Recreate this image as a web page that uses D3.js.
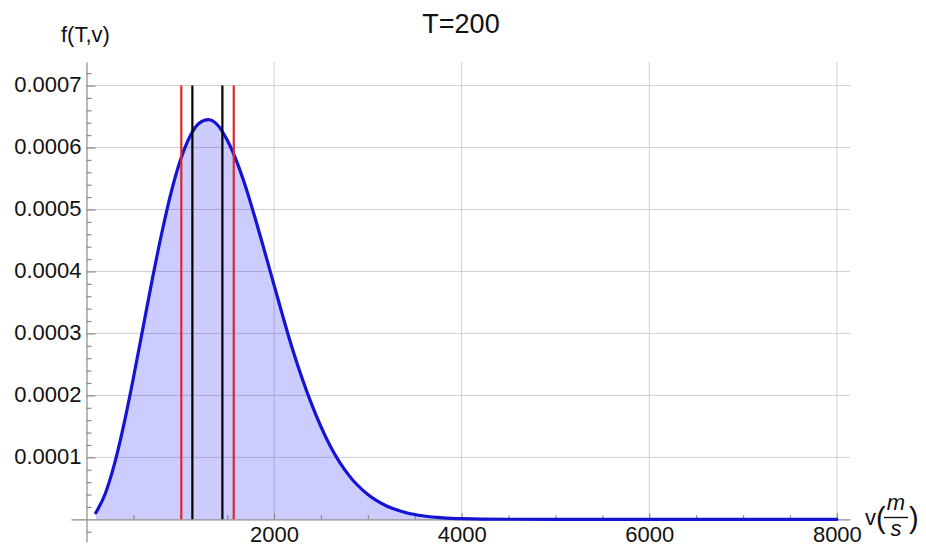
<!DOCTYPE html>
<html>
<head>
<meta charset="utf-8">
<script src="https://cdn.jsdelivr.net/npm/d3@7"></script>
<style>
    html, body { margin: 0; padding: 0; background: #fff; }
    svg { display: block; font-family: "Liberation Sans", Arial, sans-serif; }
</style>
</head>
<body>
<div id="chart"></div>
<script>
const WIDTH = 926;
const HEIGHT = 546;

const chartTitle = 'T=200';

// speed (m/s) and density
const speeds = [100, 200, 300, 400, 500, 600, 700, 800, 900, 1000,
    1100, 1200, 1300, 1400, 1500, 1600, 1700, 1800, 1900, 2000,
    2200, 2400, 2600, 2800, 3000, 3200, 3400, 3600, 3800, 4000,
    4500, 5000, 6000, 7000, 8000];
const density = [0.0000105, 0.0000413, 0.0000902, 0.000154, 0.000228, 0.000307, 0.000386, 0.000460, 0.000526, 0.000579,
    0.000617, 0.000639, 0.000645, 0.000636, 0.000612, 0.000578, 0.000535, 0.000485, 0.000432, 0.000378,
    0.000273, 0.000186, 0.000118, 0.0000705, 0.0000400, 0.0000215, 0.0000110, 0.0000053, 0.0000024, 0.0000011,
    0.0000001, 0, 0, 0, 0];

// vertical marker lines
const redMarkers = [1011, 1570];
const blackMarkers = [1129, 1449];
const markerTop = 0.0007;

const xMajorTicks = [2000, 4000, 6000, 8000];
const xMinorTicks = [500, 1000, 1500, 2500, 3000, 3500, 4500, 5000, 5500, 6500, 7000, 7500];
const yMajorTicks = [0.0001, 0.0002, 0.0003, 0.0004, 0.0005, 0.0006, 0.0007];
const yMinorTicks = [-0.00002, 0.00002, 0.00004, 0.00006, 0.00008, 0.00012, 0.00014, 0.00016, 0.00018,
    0.00022, 0.00024, 0.00026, 0.00028, 0.00032, 0.00034, 0.00036, 0.00038,
    0.00042, 0.00044, 0.00046, 0.00048, 0.00052, 0.00054, 0.00056, 0.00058,
    0.00062, 0.00064, 0.00066, 0.00068, 0.00072];

const points = speeds.map((v, i) => ({ v: v, f: density[i] }));

const svg = d3.select('#chart')
    .append('svg')
    .attr('width', WIDTH)
    .attr('height', HEIGHT);

const x = d3.scaleLinear()
    .domain([-165, 8140])
    .range([71, 850]);

const y = d3.scaleLinear()
    .domain([-0.0000366, 0.000738])
    .range([542, 62]);

const axisColor = '#8a8a8a';
const gridColor = '#d0d0d0';

// grid
svg.append('g')
    .selectAll('line')
    .data(xMajorTicks)
    .join('line')
    .attr('x1', d => x(d))
    .attr('x2', d => x(d))
    .attr('y1', y.range()[1])
    .attr('y2', y(0))
    .attr('stroke', gridColor)
    .attr('stroke-width', 1);

svg.append('g')
    .selectAll('line')
    .data(yMajorTicks)
    .join('line')
    .attr('x1', x(0))
    .attr('x2', x.range()[1])
    .attr('y1', d => y(d))
    .attr('y2', d => y(d))
    .attr('stroke', gridColor)
    .attr('stroke-width', 1);

// filled area under the curve
svg.append('path')
    .datum(points)
    .attr('fill', 'rgb(0,0,255)')
    .attr('fill-opacity', 0.2)
    .attr('stroke', 'none')
    .attr('d', d3.area()
        .curve(d3.curveMonotoneX)
        .x(d => x(d.v))
        .y0(y(0))
        .y1(d => y(d.f))
    );

// axes
const xAxisG = svg.append('g')
    .attr('transform', 'translate(0,' + y(0) + ')')
    .call(d3.axisBottom(x)
        .tickValues(xMajorTicks)
        .tickFormat(d3.format('d'))
        .tickSizeInner(-6)
        .tickSizeOuter(0)
        .tickPadding(7));

svg.append('g')
    .attr('transform', 'translate(0,' + y(0) + ')')
    .call(d3.axisBottom(x)
        .tickValues(xMinorTicks)
        .tickFormat('')
        .tickSizeInner(-4)
        .tickSizeOuter(0))
    .call(g => g.select('.domain').remove());

const yAxisG = svg.append('g')
    .attr('transform', 'translate(' + x(0) + ',0)')
    .call(d3.axisLeft(y)
        .tickValues(yMajorTicks)
        .tickFormat(d3.format('.4f'))
        .tickSizeInner(-9)
        .tickSizeOuter(0)
        .tickPadding(5));

svg.append('g')
    .attr('transform', 'translate(' + x(0) + ',0)')
    .call(d3.axisLeft(y)
        .tickValues(yMinorTicks)
        .tickFormat('')
        .tickSizeInner(-5)
        .tickSizeOuter(0))
    .call(g => g.select('.domain').remove());

svg.selectAll('.domain, .tick line')
    .attr('stroke', axisColor)
    .attr('stroke-width', 1.2);

xAxisG.selectAll('text')
    .attr('font-size', 22)
    .attr('fill', '#111')
    .attr('font-family', '"Liberation Sans", Arial, sans-serif');

yAxisG.selectAll('text')
    .attr('font-size', 22)
    .attr('fill', '#111')
    .attr('dy', '0.28em')
    .attr('font-family', '"Liberation Sans", Arial, sans-serif');

// curve
svg.append('path')
    .datum(points)
    .attr('fill', 'none')
    .attr('stroke', '#1414d2')
    .attr('stroke-width', 3.2)
    .attr('stroke-linejoin', 'round')
    .attr('stroke-linecap', 'round')
    .attr('d', d3.line()
        .curve(d3.curveMonotoneX)
        .x(d => x(d.v))
        .y(d => y(d.f))
    );

// marker lines
svg.append('g')
    .selectAll('line')
    .data(redMarkers)
    .join('line')
    .attr('x1', d => x(d))
    .attr('x2', d => x(d))
    .attr('y1', y(markerTop))
    .attr('y2', y(0))
    .attr('stroke', '#e0262b')
    .attr('stroke-width', 2.2);

svg.append('g')
    .selectAll('line')
    .data(blackMarkers)
    .join('line')
    .attr('x1', d => x(d))
    .attr('x2', d => x(d))
    .attr('y1', y(markerTop))
    .attr('y2', y(0))
    .attr('stroke', '#000')
    .attr('stroke-width', 2.2);

// title
svg.append('text')
    .attr('x', 461)
    .attr('y', 33)
    .attr('text-anchor', 'middle')
    .attr('font-size', 27)
    .attr('fill', '#111')
    .text(chartTitle);

// y axis label
svg.append('text')
    .attr('x', 61)
    .attr('y', 42)
    .attr('font-size', 22)
    .attr('fill', '#111')
    .text('f(T,v)');

// x axis label: v(m/s) with a stacked fraction
const xLabel = svg.append('g')
    .attr('transform', 'translate(865,525)')
    .attr('fill', '#111');

xLabel.append('text')
    .attr('x', 0)
    .attr('y', 0)
    .attr('font-size', 22)
    .text('v');

xLabel.append('text')
    .attr('x', 11)
    .attr('y', 3)
    .attr('font-size', 29)
    .text('(');

xLabel.append('text')
    .attr('x', 31)
    .attr('y', -15)
    .attr('text-anchor', 'middle')
    .attr('font-size', 22)
    .attr('font-style', 'italic')
    .text('m');

xLabel.append('line')
    .attr('x1', 19)
    .attr('x2', 43)
    .attr('y1', -7.5)
    .attr('y2', -7.5)
    .attr('stroke', '#111')
    .attr('stroke-width', 1.4);

xLabel.append('text')
    .attr('x', 31)
    .attr('y', 10.5)
    .attr('text-anchor', 'middle')
    .attr('font-size', 22)
    .attr('font-style', 'italic')
    .text('s');

xLabel.append('text')
    .attr('x', 44)
    .attr('y', 3)
    .attr('font-size', 29)
    .text(')');
</script>
</body>
</html>
